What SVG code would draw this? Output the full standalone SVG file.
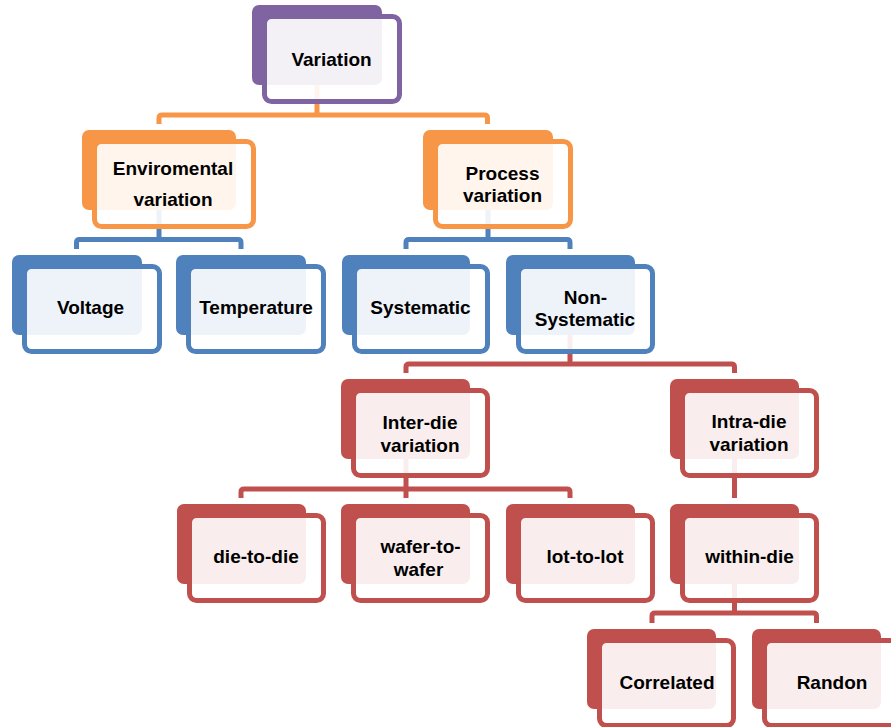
<svg xmlns="http://www.w3.org/2000/svg" width="891" height="727" viewBox="0 0 891 727">
  <style>
    .conn { fill: none; stroke-width: 5; stroke-linejoin: round; }
    .c-orange { stroke: #F79646; }
    .c-blue { stroke: #4F81BD; }
    .c-red { stroke: #C0504D; }
    .back { stroke: none; }
    .front { fill: #FFFFFF; fill-opacity: 0.9; stroke-width: 5; }
    .purple .back { fill: #8064A2; } .purple .front { stroke: #8064A2; }
    .orange .back { fill: #F79646; } .orange .front { stroke: #F79646; }
    .blue .back { fill: #4F81BD; } .blue .front { stroke: #4F81BD; }
    .red .back { fill: #C0504D; } .red .front { stroke: #C0504D; }
    text { font-family: "Liberation Sans", Arial, sans-serif; font-weight: bold; font-size: 19px; fill: #000000; text-anchor: middle; }
  </style>

  <!-- connectors (drawn first so the translucent cards veil them) -->
  <g id="connectors">
    <path class="conn c-orange" d="M317,85 V115 M159,124 V118 Q159,115 162,115 H484.5 Q487.5,115 487.5,118 V124"/>
    <path class="conn c-blue" d="M159,209 V239.5 M76.5,249 V242.5 Q76.5,239.5 79.5,239.5 H238 Q241,239.5 241,242.5 V249"/>
    <path class="conn c-blue" d="M488,210 V239.5 M406,249 V242.5 Q406,239.5 409,239.5 H567 Q570,239.5 570,242.5 V249"/>
    <path class="conn c-red" d="M570,335 V364 M406,373 V367 Q406,364 409,364 H731.5 Q734.5,364 734.5,367 V373"/>
    <path class="conn c-red" d="M406,459 V489 M241,498 V492 Q241,489 244,489 H567 Q570,489 570,492 V498 M406,489 V498"/>
    <path class="conn c-red" d="M734.5,459 V498"/>
    <path class="conn c-red" d="M734.5,584 V613 M652,623 V616 Q652,613 655,613 H813.5 Q816.5,613 816.5,616 V623"/>
  </g>

  <!-- level 1 -->
  <g id="variation" class="purple">
    <rect class="back" x="252" y="5" width="130" height="80" rx="7"/>
    <rect class="front" x="264.5" y="16.5" width="135" height="85" rx="7"/>
    <text x="331.5" y="65.5">Variation</text>
  </g>

  <!-- level 2 -->
  <g id="environmental" class="orange">
    <rect class="back" x="82" y="130" width="154" height="80" rx="7"/>
    <rect class="front" x="94.5" y="141.5" width="159" height="85" rx="7"/>
    <text x="173" y="175">Enviromental</text>
    <text x="173" y="205.5">variation</text>
  </g>
  <g id="process" class="orange">
    <rect class="back" x="423" y="130" width="130" height="80" rx="7"/>
    <rect class="front" x="435.5" y="141.5" width="135" height="85" rx="7"/>
    <text x="502.5" y="179.5">Process</text>
    <text x="502.5" y="202">variation</text>
  </g>

  <!-- level 3 -->
  <g id="voltage" class="blue">
    <rect class="back" x="12" y="255" width="130" height="80" rx="7"/>
    <rect class="front" x="24.5" y="266.5" width="135" height="85" rx="7"/>
    <text x="90.5" y="313.5">Voltage</text>
  </g>
  <g id="temperature" class="blue">
    <rect class="back" x="176" y="255" width="130" height="80" rx="7"/>
    <rect class="front" x="188.5" y="266.5" width="135" height="85" rx="7"/>
    <text x="256" y="313.5">Temperature</text>
  </g>
  <g id="systematic" class="blue">
    <rect class="back" x="342" y="255" width="128" height="80" rx="7"/>
    <rect class="front" x="354.5" y="266.5" width="133" height="85" rx="7"/>
    <text x="420.5" y="314">Systematic</text>
  </g>
  <g id="non-systematic" class="blue">
    <rect class="back" x="506" y="255" width="129" height="80" rx="7"/>
    <rect class="front" x="518.5" y="266.5" width="134" height="85" rx="7"/>
    <text x="585.5" y="303.5">Non-</text>
    <text x="585" y="326">Systematic</text>
  </g>

  <!-- level 4 -->
  <g id="inter-die" class="red">
    <rect class="back" x="341" y="379" width="129" height="80" rx="7"/>
    <rect class="front" x="353.5" y="390.5" width="134" height="85" rx="7"/>
    <text x="420" y="428.5">Inter-die</text>
    <text x="420" y="451.5">variation</text>
  </g>
  <g id="intra-die" class="red">
    <rect class="back" x="670" y="379" width="129" height="80" rx="7"/>
    <rect class="front" x="682.5" y="390.5" width="134" height="85" rx="7"/>
    <text x="749" y="427.5">Intra-die</text>
    <text x="749" y="450.5">variation</text>
  </g>

  <!-- level 5 -->
  <g id="die-to-die" class="red">
    <rect class="back" x="177" y="504" width="129" height="80" rx="7"/>
    <rect class="front" x="189.5" y="515.5" width="134" height="85" rx="7"/>
    <text x="256" y="563">die-to-die</text>
  </g>
  <g id="wafer-to-wafer" class="red">
    <rect class="back" x="341" y="504" width="129" height="80" rx="7"/>
    <rect class="front" x="353.5" y="515.5" width="134" height="85" rx="7"/>
    <text x="420.5" y="552.5">wafer-to-</text>
    <text x="418.5" y="575.5">wafer</text>
  </g>
  <g id="lot-to-lot" class="red">
    <rect class="back" x="506" y="504" width="129" height="80" rx="7"/>
    <rect class="front" x="518.5" y="515.5" width="134" height="85" rx="7"/>
    <text x="585" y="562.5">lot-to-lot</text>
  </g>
  <g id="within-die" class="red">
    <rect class="back" x="670" y="504" width="129" height="80" rx="7"/>
    <rect class="front" x="682.5" y="515.5" width="134" height="85" rx="7"/>
    <text x="749.5" y="562.5">within-die</text>
  </g>

  <!-- level 6 -->
  <g id="correlated" class="red">
    <rect class="back" x="587" y="629" width="129" height="80" rx="7"/>
    <rect class="front" x="599.5" y="640.5" width="134" height="85" rx="7"/>
    <text x="667" y="689">Correlated</text>
  </g>
  <g id="randon" class="red">
    <rect class="back" x="752" y="629" width="129" height="80" rx="7"/>
    <rect class="front" x="764.5" y="640.5" width="134" height="85" rx="7"/>
    <text x="832" y="689">Randon</text>
  </g>
</svg>
